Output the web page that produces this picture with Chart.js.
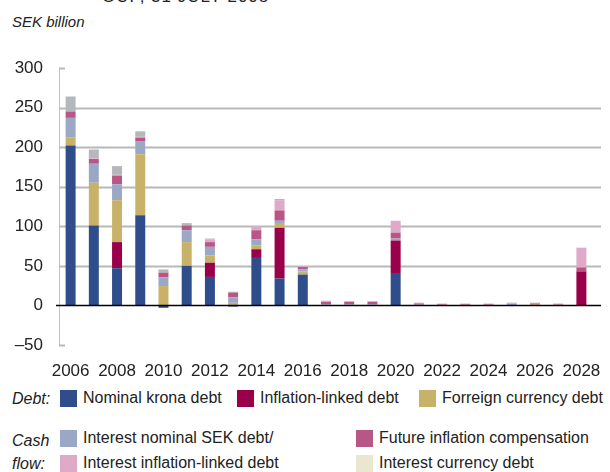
<!DOCTYPE html>
<html>
<head>
<meta charset="utf-8">
<script src="https://cdn.jsdelivr.net/npm/chart.js@4.4.0/dist/chart.umd.min.js"></script>
<style>
  body { margin: 0; background: #fff; width: 610px; height: 472px; overflow: hidden; position: relative;
         font-family: "Liberation Sans", Arial, sans-serif; color: #222; }
  #wrap { position: absolute; left: 0; top: 0; width: 610px; height: 380px; }
  .txt { position: absolute; white-space: nowrap; font-size: 16px; line-height: 18px; }
  .it { font-style: italic; }
  .sw { position: absolute; width: 17px; height: 17px; }
</style>
</head>
<body>
<div class="txt" style="left:102px; top:-12px; font-size:17px; letter-spacing:1px;">OUP, 31 JULY 2008</div>
<div class="txt it" style="left:12px; top:13px; font-size:15px;">SEK billion</div>
<div id="wrap"><canvas id="chart"></canvas></div>
<div id="legend"></div>

<script>
// years on the x axis
const years = ["2006","2007","2008","2009","2010","2011","2012","2013","2014","2015","2016","2017",
               "2018","2019","2020","2021","2022","2023","2024","2025","2026","2027","2028"];
const yTicks = [-50, 0, 50, 100, 150, 200, 250, 300];

// debt (SEK billion)
const nominalKrona = [202, 101, 47, 114, -3, 50, 36, -1.5, 60, 34, 39, 0, 0, 0, 41, 0, 0, 0, 0, 0, 0, 0, 0];
const inflationLinked = [0, 0, 33, 0, 0, 0, 18, 0, 11, 64, 0, 0, 0, 0, 41, 0, 0, 0, 0, 0, 0, 0, 43];
const foreignCurrency = [10, 54, 53, 77, 24.5, 30, 9, 3.3, 5, 5, 4, 0, 0, 0, 0, 0, 0, 0, 0, 0, 1, 0, 0];
// cash flow
const interestNominal = [25, 24, 20, 16, 11, 15, 11, 7, 7.5, 4, 2.5, 1.5, 1.5, 1.5, 2.5, 1, 0, 0, 0, 2.5, 0, 0, 0];
const futureInflation = [8, 6, 11, 5, 6, 6, 6, 6, 11.5, 13, 3, 3, 3, 3, 7.5, 1.5, 1.2, 1.2, 1.2, 0, 1.5, 1, 5];
const interestInflation = [0, 1, 1, 1, 0, 0, 3, 0, 5, 13, 1, 1.5, 1, 1, 15, 1, 1.2, 1.2, 1.2, 0, 1, 1.5, 25];
const interestCurrency = [19, 11, 11, 7, 4, 3, 1.5, 1, 0, 1.5, 0, 0, 0, 0, 0, 0, 0, 0, 0, 1, 0, 0, 0];

const series = [
  { label: "Nominal krona debt", data: nominalKrona, color: "#2e4d8a", legend: "#2e4d8a" },
  { label: "Inflation-linked debt", data: inflationLinked, color: "#990049", legend: "#990049" },
  { label: "Forreign currency debt", data: foreignCurrency, color: "#c8b26a", legend: "#c8b26a" },
  { label: "Interest nominal SEK debt/", data: interestNominal, color: "#9aa8c6", legend: "#9aa8c6" },
  { label: "Future inflation compensation", data: futureInflation, color: "#b85785", legend: "#b85785" },
  { label: "Interest inflation-linked debt", data: interestInflation, color: "#dfaac8", legend: "#dfaac8" },
  { label: "Interest currency debt", data: interestCurrency, color: "#b4b7bb", legend: "#ebe6cf" }
];

// grid lines stretch a bit past the last bar, zero line in black on top
const gridPlugin = {
  id: "grid",
  beforeDatasetsDraw(chart) {
    const { ctx, chartArea, scales } = chart;
    ctx.save();
    ctx.strokeStyle = "#b8b8b8";
    ctx.lineWidth = 2;
    yTicks.forEach(v => {
      if (v === 0) return;
      const y = Math.round(scales.y.getPixelForValue(v)) + 0.5;
      // top and bottom only get a short stub
      const end = (v === 300 || v === -50) ? chartArea.left + 6 : chartArea.right + 8;
      ctx.beginPath();
      ctx.moveTo(chartArea.left, y);
      ctx.lineTo(end, y);
      ctx.stroke();
    });
    ctx.restore();
  },
  afterDatasetsDraw(chart) {
    const { ctx, chartArea, scales } = chart;
    const y = Math.round(scales.y.getPixelForValue(0)) + 0.5;
    ctx.save();
    ctx.strokeStyle = "#000";
    ctx.lineWidth = 1.5;
    ctx.beginPath();
    ctx.moveTo(chartArea.left - 3, y);
    ctx.lineTo(chartArea.right + 8, y);
    ctx.stroke();
    ctx.restore();
  }
};

new Chart(document.getElementById("chart"), {
  type: "bar",
  data: {
    labels: years,
    datasets: series.map(s => ({
      label: s.label,
      data: s.data,
      backgroundColor: s.color,
      borderWidth: 0,
      barPercentage: 0.43,
      categoryPercentage: 1
    }))
  },
  options: {
    responsive: true,
    maintainAspectRatio: false,
    animation: false,
    layout: { padding: { top: 68, left: 0, right: 17, bottom: 0 } },
    plugins: { legend: { display: false }, tooltip: { enabled: false } },
    scales: {
      x: {
        stacked: true,
        grid: { display: false },
        border: { display: false },
        afterFit: s => { s.height = 35; },
        ticks: {
          autoSkip: false, maxRotation: 0, padding: 8, color: "#222",
          font: { family: "Liberation Sans", size: 17 },
          callback: (v, i) => (i % 2 === 0 ? years[i] : "")
        }
      },
      y: {
        stacked: true,
        min: -50, max: 300,
        afterBuildTicks: s => { s.ticks = yTicks.map(v => ({ value: v })); },
        afterFit: s => { s.width = 59; },
        grid: { display: false, drawTicks: false },
        border: { display: true, color: "#c4c4c4", width: 1 },
        ticks: {
          padding: 16, color: "#222",
          font: { family: "Liberation Sans", size: 17 },
          callback: v => (v < 0 ? "\u2013" + Math.abs(v) : v)
        }
      }
    }
  },
  plugins: [gridPlugin]
});

// legend laid out like the original: one "Debt" row, two "Cash flow" rows
const legendSpots = [
  { i: 0, x: 60, y: 390 }, { i: 1, x: 237, y: 390 }, { i: 2, x: 419, y: 390 },
  { i: 3, x: 60, y: 430 }, { i: 4, x: 356, y: 430 },
  { i: 5, x: 60, y: 455 }, { i: 6, x: 356, y: 455 }
];
const leg = document.getElementById("legend");
let html = '<div class="txt it" style="left:12px; top:390px;">Debt:</div>' +
           '<div class="txt it" style="left:12px; top:432px;">Cash</div>' +
           '<div class="txt it" style="left:12px; top:455px;">flow:</div>';
legendSpots.forEach(p => {
  const s = series[p.i];
  html += `<div class="sw" style="left:${p.x}px; top:${p.y}px; background:${s.legend};"></div>`;
  html += `<div class="txt" style="left:${p.x + 23}px; top:${p.y - 1}px;">${s.label}</div>`;
});
leg.innerHTML = html;
</script>
</body>
</html>
